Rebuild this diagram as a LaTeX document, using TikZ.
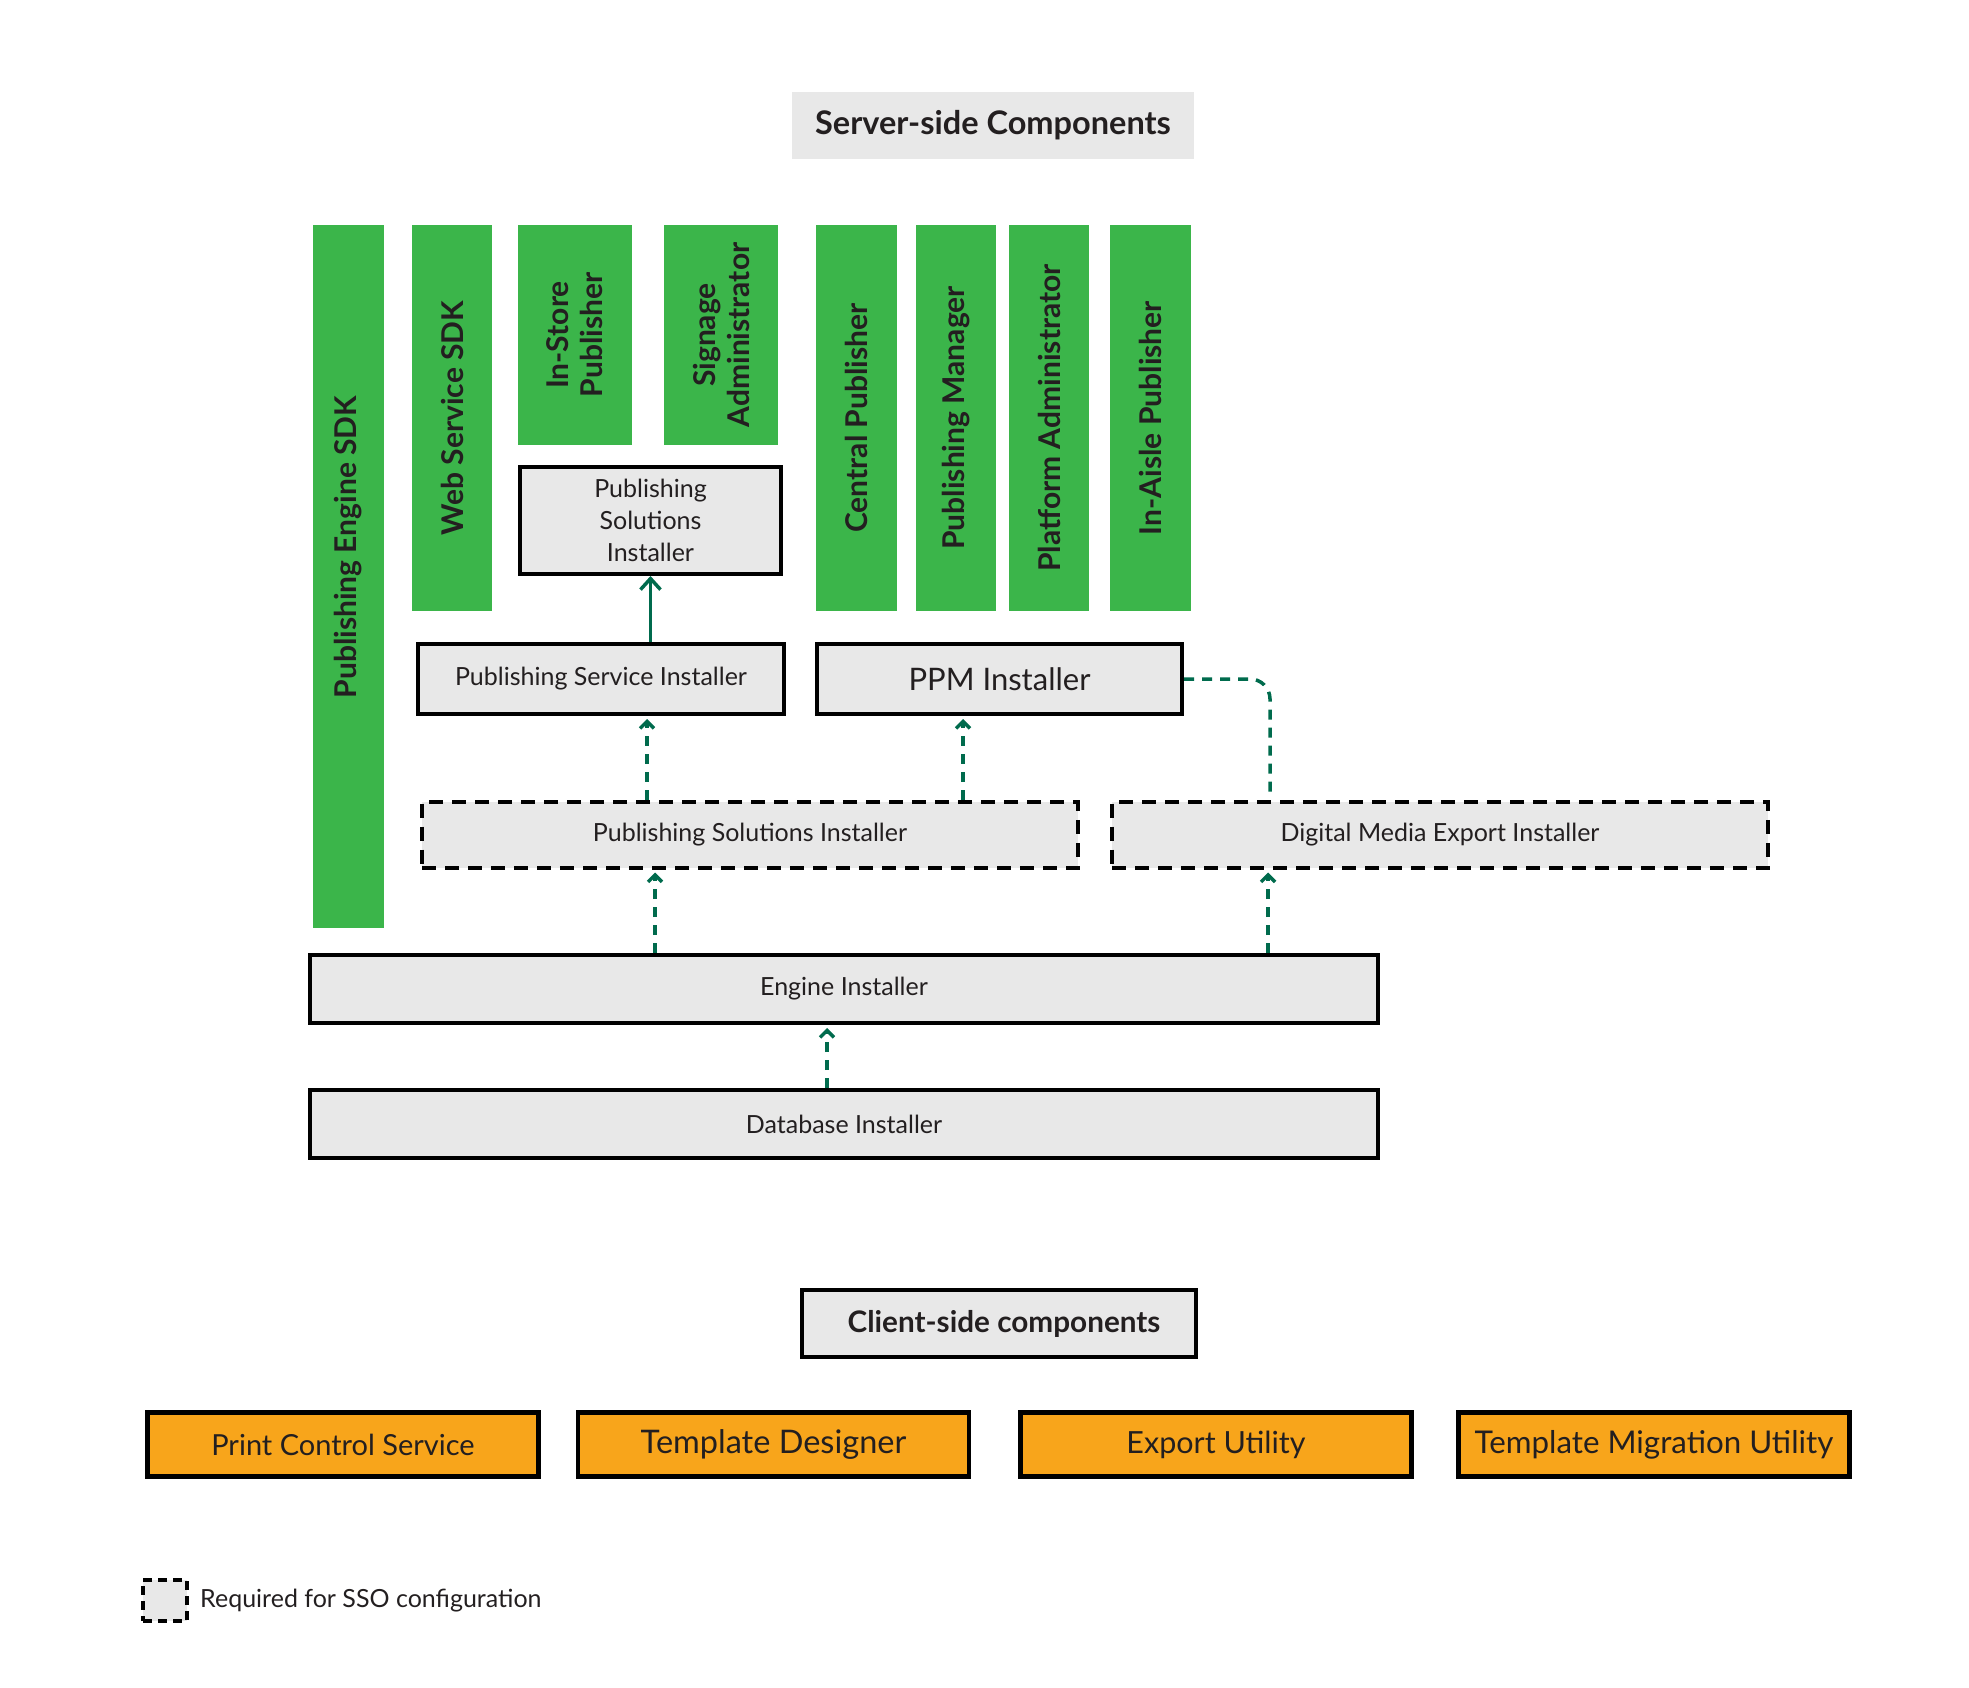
\documentclass[tikz,border=0pt]{standalone}
\usepackage{fontspec}
\setmainfont{Lato}
\usepackage{tikz}
\usetikzlibrary{arrows.meta,positioning,calc}

\definecolor{compgreen}{RGB}{59,181,74}
\definecolor{boxgrey}{RGB}{232,232,232}
\definecolor{clientorange}{RGB}{248,165,27}
\definecolor{linkgreen}{RGB}{0,107,77}
\definecolor{inkblack}{RGB}{35,31,32}

\begin{document}
\begin{tikzpicture}[x=1pt,y=-1pt,text=inkblack]

      \tikzstyle{comp}=[rotate=90,fill=compgreen,inner sep=0pt,align=center,font=\fontsize{30}{34}\selectfont\bfseries]
      \tikzstyle{inst}=[draw=black,line width=4pt,fill=boxgrey,minimum height=70pt,inner sep=0pt,align=center,font=\fontsize{25}{32}\selectfont]
      \tikzstyle{sso}=[inst,dash pattern=on 14pt off 9pt,minimum height=66pt,minimum width=656pt]
      \tikzstyle{client}=[draw=black,line width=4.5pt,fill=clientorange,minimum width=391pt,minimum height=64pt,inner sep=0pt,font=\fontsize{31}{36}\selectfont]
      \tikzstyle{head}=[fill=boxgrey,inner sep=0pt,font=\fontsize{32.5}{38}\selectfont\bfseries]
      \tikzstyle{uplink}=[draw=linkgreen,line width=3.5pt,-{Straight Barb[length=11pt,width=20pt]}]
      \tikzstyle{ssolink}=[draw=linkgreen,line width=3.5pt,dash pattern=on 10pt off 8pt]
      \tikzstyle{ssoarrow}=[ssolink,shorten >=3pt,-{Straight Barb[length=7pt,width=14pt]}]

      \useasboundingbox (0,0) rectangle (1969,1688);

      \node[head,minimum width=402pt,minimum height=67pt] (SSC) at (993,125.5) {Server-side Components};

      % server-side applications
      \node[comp,minimum width=703pt,minimum height=71pt] (PESDK) at (348.5,576.5) {\hspace*{59pt}Publishing Engine SDK};
      \node[comp,minimum width=386pt,minimum height=80pt] (WSSDK) at (452,418) {Web Service SDK};
      \node[comp,minimum width=220pt,minimum height=114pt] (ISP) at (575,335) {In-Store\\Publisher};
      \node[comp,minimum width=220pt,minimum height=114pt] (SA) at (721,335) {Signage\\Administrator};
      \node[comp,minimum width=386pt,minimum height=81pt] (CP) at (856.5,418) {Central Publisher};
      \node[comp,minimum width=386pt,minimum height=80pt] (PM) at (956,418) {Publishing Manager};
      \node[comp,minimum width=386pt,minimum height=80pt] (PA) at (1049,418) {Platform Administrator};
      \node[comp,minimum width=386pt,minimum height=81pt] (IAP) at (1150.5,418) {In-Aisle Publisher};

      % installers
      \node[inst,minimum width=261pt,minimum height=107pt] (PSI) at (650.5,520.5) {Publishing\\Solutions\\Installer};
      \node[inst,minimum width=366pt] (PSvc) at (601,679) {Publishing Service Installer};
      \node[inst,minimum width=365pt,font=\fontsize{31}{36}\selectfont] (PPM) at (999.5,679) {PPM Installer};

      \node[sso] (PSId) at (750,834.5) {Publishing Solutions Installer};
      \node[sso] (DME) at (1440,834.5) {Digital Media Export Installer};

      \node[inst,minimum width=1068pt,minimum height=68pt] (EI) at (844,989) {Engine Installer};
      \node[inst,minimum width=1068pt,minimum height=68pt] (DBI) [below=63pt of EI] {Database Installer};

      % client side
      \node[head,draw=black,line width=4pt,minimum width=394pt,minimum height=67pt,font=\fontsize{29.7}{35}\selectfont\bfseries] (CSC) at (999,1323.5) {\hspace*{10pt}Client-side components};

      \node[client,font=\fontsize{29}{34}\selectfont] (PCS) at (343,1444.5) {Print Control Service};
      \node[client,font=\fontsize{32.5}{38}\selectfont] (TD) [right=35pt of PCS] {Template Designer};
      \node[client,font=\fontsize{30.5}{36}\selectfont] (EU) [right=47pt of TD] {Export Utility};
      \node[client,font=\fontsize{31.3}{36}\selectfont] (TMU) [right=42.5pt of EU] {Template Migration Utility};

      % legend
      \node[sso,minimum width=44pt,minimum height=41pt,dash pattern=on 9pt off 6pt] (KEY) at (165,1600.5) {};
      \node[inner sep=0pt,font=\fontsize{25}{30}\selectfont,right=11pt of KEY] (KEYT) {Required for SSO configuration};

      \draw[uplink] (PSvc.north -| PSI.south) -- (PSI.south);
      \draw[ssoarrow] ($(PSId.north)+(-103,0)$) -- ($(PSvc.south)+(46,0)$);
      \draw[ssoarrow] ($(PSId.north)+(213,0)$) -- ($(PPM.south)+(-36.5,0)$);
      \draw[ssolink,rounded corners=20pt] (PPM.east) -| ($(DME.north)+(-170,0)$);
      \draw[ssoarrow] ($(EI.north)+(-189,0)$) -- ($(PSId.south)+(-95,0)$);
      \draw[ssoarrow] ($(EI.north)+(424,0)$) -- ($(DME.south)+(-172,0)$);
      \draw[ssoarrow] ($(DBI.north)+(-17,0)$) -- ($(EI.south)+(-17,0)$);
    \end{tikzpicture}
\end{document}
